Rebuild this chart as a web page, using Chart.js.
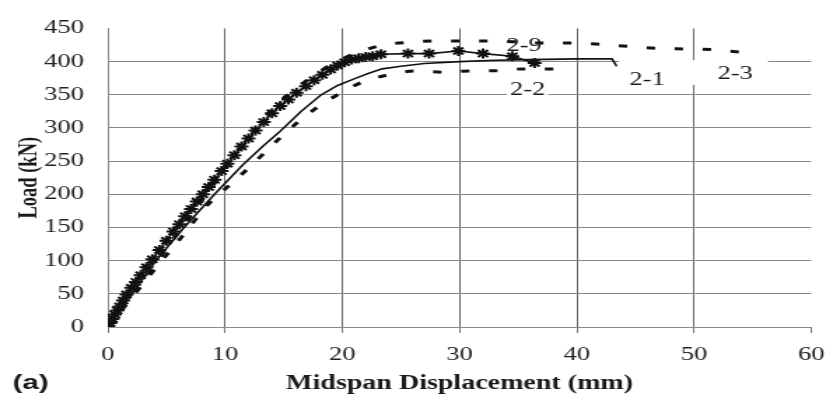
<!DOCTYPE html>
<html>
<head>
<meta charset="utf-8">
<script src="https://cdn.jsdelivr.net/npm/chart.js@4"></script>
<style>
  html, body { margin: 0; padding: 0; background: #fff; overflow: hidden; }
  #wrap { position: absolute; left: 0; top: 0; width: 600px; height: 399px; transform: scaleX(1.4); transform-origin: 0 0; }
</style>
</head>
<body>
<div id="wrap"><canvas id="c"></canvas></div>
<script>
// ---- data ----
const xTicks = [0, 10, 20, 30, 40, 50, 60];
const yTicks = [0, 50, 100, 150, 200, 250, 300, 350, 400, 450];

const s29x = [0,0.2,0.4,0.6,0.8,1.0,1.3,1.6,2.0,2.4,2.8,3.3,3.8,4.4,5.0,5.6,6.1,6.6,7.1,7.6,8.1,8.6,9.1,9.7,10.2,10.8,11.4,12.0,12.6,13.3,14.0,14.7,15.4,16.1,16.9,17.6,18.3,19.0,19.6,20.2,20.8,21.4,22.0,22.6,23.3,25.6,27.4,29.9,32.0,34.5,36.4];
const s29y = [0,6,12,19,25,31,40,49,59,68,78,90,102,116,130,144,155,167,178,189,200,211,222,235,246,259,272,284,296,309,322,333,343,353,363,372,380,388,394,399,403,405,407,408,411,412,412,416,412,408,398];

const s21x = [0,2,4.1,6.5,9.1,11.5,13.2,14.7,16.5,18.2,19.6,21,22.2,23.4,25,27,30,33,36,40,43,43.4];
const s21y = [0,48,100,150,200,244,272,295,325,350,364,374,382,389,393,397,400,402,403,404,404,393];

const s22x = [0,2.3,4.6,6.5,8.3,9.5,11.1,12.5,13.8,15,16.5,18.2,20,21.7,23.9,26.3,28.5,31,33.1,35.4,38.1];
const s22y = [0,50,100,140,180,200,225,248,270,290,313,335,354,369,380,386,384,386,386,389,389];

const s23x = [0,5,10,14,17,19,20.5,22,23.5,25.6,28.1,30.5,32.7,34.5,36.9,39.8,42.1,44.3,46.9,49.4,51.7,54.5];
const s23y = [0,118,238,328,372,395,408,418,425,429,431,431,431,430,428,428,426,423,420,419,418,413];

const seriesNames = ['2-9', '2-1', '2-2', '2-3'];
const labelX = [35.5, 46.0, 35.8, 53.5];
const labelY = [423, 372, 357, 382];

const xTitle = 'Midspan Displacement (mm)';
const yTitle = 'Load (kN)';
const panelTag = '(a)';

// ---- chart ----
const pts = (xs, ys) => xs.map((x, i) => ({ x: x, y: ys[i] }));
const serif = 'Liberation Serif';

const textPlugin = {
  id: 'texts',
  afterDatasetsDraw(chart) {
    const ctx = chart.ctx, xs = chart.scales.x, ys = chart.scales.y, a = chart.chartArea;
    ctx.save();
    // white patch behind right-hand labels (gridline gap in reference)
    ctx.fillStyle = '#fff';
    const rx0 = xs.getPixelForValue(43.6), rx1 = xs.getPixelForValue(56.3);
    const ry0 = ys.getPixelForValue(402), ry1 = ys.getPixelForValue(365);
    ctx.fillRect(rx0, ry0, rx1 - rx0, ry1 - ry0);
    ctx.font = '19px "' + serif + '"';
    ctx.textAlign = 'center';
    ctx.textBaseline = 'middle';
    seriesNames.forEach((n, i) => {
      const px = xs.getPixelForValue(labelX[i]), py = ys.getPixelForValue(labelY[i]);
      if (n === '2-2') {
        const w = ctx.measureText(n).width;
        ctx.fillStyle = '#fff';
        ctx.fillRect(px - w / 2 - 2, py - 8, w + 4, 16);
      }
      ctx.fillStyle = '#1a1a1a';
      ctx.fillText(n, px, py);
    });
    // axis titles
    ctx.fillStyle = '#1a1a1a';
    ctx.font = 'bold 20px "' + serif + '"';
    ctx.fillText(xTitle, (a.left + a.right) / 2, 384);
    ctx.save();
    ctx.translate(21, (a.top + a.bottom) / 2);
    ctx.rotate(-Math.PI / 2);
    ctx.font = 'bold 18.5px "' + serif + '"';
    ctx.fillText(yTitle, 0, 0);
    ctx.restore();
    ctx.font = 'bold 21px "Liberation Sans"';
    ctx.textAlign = 'left';
    ctx.fillText(panelTag, 9, 383);
    ctx.restore();
  }
};

new Chart(document.getElementById('c'), {
  type: 'line',
  data: {
    datasets: [
      { label: seriesNames[0], data: pts(s29x, s29y), borderColor: '#111', borderWidth: 1.6,
        pointStyle: 'star', pointRadius: 5, pointBorderWidth: 2, pointBorderColor: '#111', pointBackgroundColor: '#111' },
      { label: seriesNames[1], data: pts(s21x, s21y), borderColor: '#111', borderWidth: 1.6, pointRadius: 0 },
      { label: seriesNames[2], data: pts(s22x, s22y), borderColor: '#111', borderWidth: 3, borderDash: [6, 14], pointRadius: 0, cubicInterpolationMode: 'monotone' },
      { label: seriesNames[3], data: pts(s23x, s23y), borderColor: '#111', borderWidth: 3, borderDash: [6, 14], pointRadius: 0, cubicInterpolationMode: 'monotone' }
    ]
  },
  options: {
    responsive: true,
    maintainAspectRatio: false,
    animation: false,
    layout: { padding: { top: 22, right: 13, left: 0, bottom: 0 } },
    plugins: { legend: { display: false }, tooltip: { enabled: false }, title: { display: false } },
    elements: { line: { tension: 0 } },
    scales: {
      x: {
        type: 'linear', min: 0, max: 60,
        afterBuildTicks: (s) => { s.ticks = xTicks.map(v => ({ value: v })); },
        afterFit: (s) => { s.height = 72; },
        ticks: { font: { family: serif, size: 19 }, color: '#222', padding: 11, maxRotation: 0 },
        grid: {
          color: (c) => (c.tick && (c.tick.value === 0 || c.tick.value === 60)) ? 'rgba(0,0,0,0)' : '#666',
          tickColor: '#777', tickLength: 6, lineWidth: 1
        },
        border: { display: true, color: '#8a8a8a', width: 1 }
      },
      y: {
        min: 0, max: 450,
        afterBuildTicks: (s) => { s.ticks = yTicks.map(v => ({ value: v })); },
        afterFit: (s) => { s.width = 77; },
        ticks: { font: { family: serif, size: 19 }, color: '#222', padding: 17 },
        grid: {
          color: (c) => (c.tick && (c.tick.value === 450 || c.tick.value === 0)) ? 'rgba(0,0,0,0)' : '#888',
          drawTicks: false, lineWidth: 1
        },
        border: { display: true, color: '#8a8a8a', width: 1 }
      }
    }
  },
  plugins: [textPlugin]
});
</script>
</body>
</html>
